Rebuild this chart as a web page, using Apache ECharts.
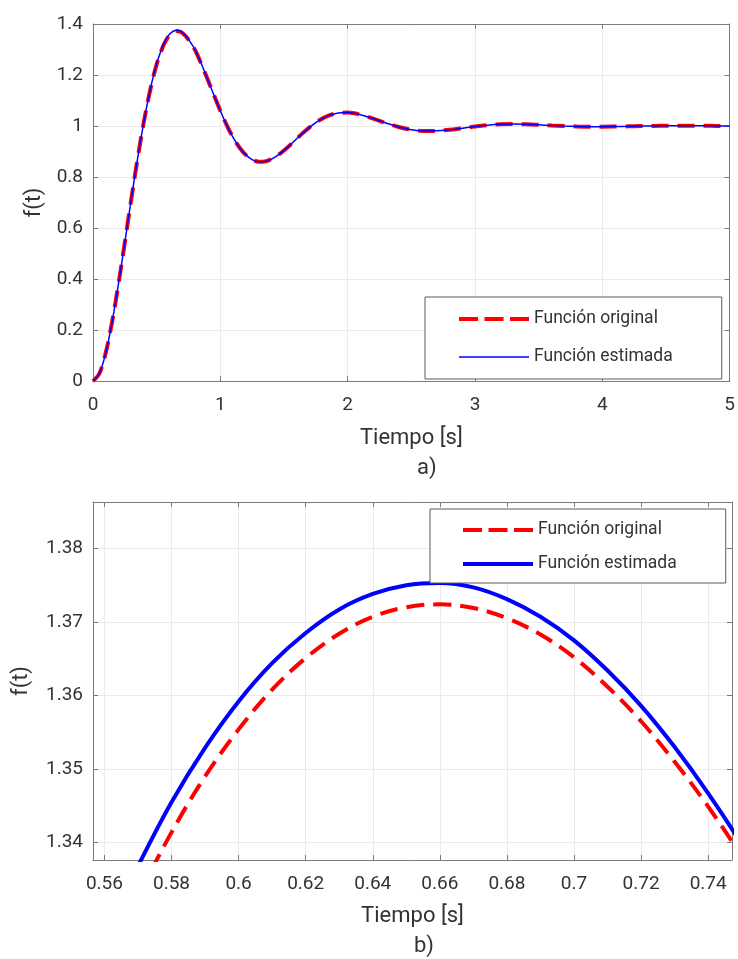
<!DOCTYPE html>
<html>
<head>
<meta charset="utf-8">
<script src="https://cdn.jsdelivr.net/npm/echarts@6/dist/echarts.min.js"></script>
<style>
  html, body { margin: 0; padding: 0; background: #ffffff; }
  #chart { width: 738px; height: 959px; }
</style>
</head>
<body>
<div id="chart"></div>
<script>
// Step response samples: time [s], original function and estimated function.
// Dense sampling between 0.55 s and 0.75 s covers the zoomed view b).
const tiempo = [
  0, 0.05, 0.1, 0.15, 0.2, 0.25, 0.3, 0.35, 0.4, 0.45, 0.5, 0.55,
  0.56, 0.57, 0.58, 0.59, 0.6, 0.61, 0.62, 0.63, 0.64, 0.65,
  0.66, 0.67, 0.68, 0.69, 0.7, 0.71, 0.72, 0.73, 0.74, 0.75,
  0.8, 0.85, 0.9, 0.95, 1, 1.05, 1.1, 1.15, 1.2, 1.25, 1.3, 1.35, 1.4, 1.45,
  1.5, 1.55, 1.6, 1.65, 1.7, 1.75, 1.8, 1.85, 1.9, 1.95, 2,
  2.1, 2.2, 2.3, 2.4, 2.5, 2.6, 2.7, 2.8, 2.9, 3, 3.1, 3.2, 3.3, 3.4, 3.5,
  3.6, 3.7, 3.8, 3.9, 4, 4.1, 4.2, 4.3, 4.4, 4.5, 4.6, 4.7, 4.8, 4.9, 5
];

const fOriginal = [
  0, 0.0294, 0.1107, 0.2317, 0.3806, 0.5438, 0.7112, 0.8719, 1.0176, 1.1423, 1.2417, 1.3125,
  1.3229, 1.3326, 1.3414, 1.3490, 1.3554, 1.3608, 1.3651, 1.3684, 1.3707, 1.3720,
  1.3724, 1.3719, 1.3705, 1.3683, 1.3652, 1.3612, 1.3565, 1.3510, 1.3449, 1.3380,
  1.2988, 1.2441, 1.1834, 1.1209, 1.0598, 1.0037, 0.9552, 0.9159, 0.8869, 0.8684, 0.8600, 0.8609, 0.8696, 0.8846,
  0.9042, 0.9265, 0.9500, 0.9731, 0.9946, 1.0134, 1.0289, 1.0405, 1.0483, 1.0521, 1.0525,
  1.0445, 1.0293, 1.0118, 0.9963, 0.9855, 0.9806, 0.9810, 0.9853, 0.9916, 0.9981, 1.0032, 1.0064, 1.0074, 1.0066, 1.0046,
  1.0021, 0.9999, 0.9983, 0.9974, 0.9973, 0.9978, 0.9986, 0.9996, 1.0003, 1.0008, 1.0010, 1.0010, 1.0007, 1.0004, 1.0000
];

const fEstimada = [
  0, 0.0294, 0.1107, 0.2317, 0.3806, 0.5438, 0.7112, 0.8719, 1.0176, 1.1440, 1.2445, 1.3170,
  1.3273, 1.3368, 1.3455, 1.3529, 1.3592, 1.3644, 1.3685, 1.3717, 1.3738, 1.3750,
  1.3753, 1.3747, 1.3731, 1.3707, 1.3675, 1.3634, 1.3586, 1.3530, 1.3467, 1.3397,
  1.3005, 1.2452, 1.1834, 1.1209, 1.0598, 1.0037, 0.9552, 0.9159, 0.8869, 0.8684, 0.8600, 0.8609, 0.8696, 0.8846,
  0.9042, 0.9265, 0.9500, 0.9731, 0.9946, 1.0134, 1.0289, 1.0405, 1.0483, 1.0521, 1.0525,
  1.0445, 1.0293, 1.0118, 0.9963, 0.9855, 0.9806, 0.9810, 0.9853, 0.9916, 0.9981, 1.0032, 1.0064, 1.0074, 1.0066, 1.0046,
  1.0021, 0.9999, 0.9983, 0.9974, 0.9973, 0.9978, 0.9986, 0.9996, 1.0003, 1.0008, 1.0010, 1.0010, 1.0007, 1.0004, 1.0000
];

// Tick labels
const xTicksA = [0, 1, 2, 3, 4, 5];
const yTicksA = [0, 0.2, 0.4, 0.6, 0.8, 1, 1.2, 1.4];
const xTicksB = [0.56, 0.58, 0.6, 0.62, 0.64, 0.66, 0.68, 0.7, 0.72, 0.74];
const yTicksB = [1.34, 1.35, 1.36, 1.37, 1.38];

// Visible window of the zoomed view
const xRangeB = [0.5566, 0.7471];
const yRangeB = [1.33765, 1.3863];

const nombreOriginal = 'Función original';
const nombreEstimada = 'Función estimada';

const FONT = 'Roboto, "Liberation Sans", sans-serif';
const TEXT = '#333333';
const AXIS_GRAY = '#7a7a7a';
const GRID_GRAY = '#ebebeb';
const RED = '#ff0000';
const BLUE = '#0000ff';
const TICK_SIZE = 19;
const NAME_SIZE = 22;
const LEGEND_SIZE = 17.5;

function pairs(xs, ys) { return xs.map((x, i) => [x, ys[i]]); }

function tickFormatter(list) {
  return function (v) {
    const t = list.find(t => Math.abs(t - v) < 1e-7);
    return t === undefined ? '' : String(t);
  };
}

function labelStyle(extra) {
  return Object.assign({ color: TEXT, fontSize: TICK_SIZE, fontFamily: FONT }, extra);
}

function mainAxis(extra) {
  return Object.assign({
    type: 'value',
    axisLine: { show: true, onZero: false, lineStyle: { color: AXIS_GRAY, width: 1 } },
    axisTick: { show: true, inside: true, length: 5, lineStyle: { color: AXIS_GRAY } },
    splitLine: { show: true, lineStyle: { color: GRID_GRAY, width: 1 } },
    nameLocation: 'middle',
    nameTextStyle: { color: TEXT, fontSize: NAME_SIZE, fontFamily: FONT }
  }, extra);
}

function mirrorAxis(extra) {
  return Object.assign({
    type: 'value',
    axisLine: { show: true, onZero: false, lineStyle: { color: AXIS_GRAY, width: 1 } },
    axisTick: { show: true, inside: true, length: 5, lineStyle: { color: AXIS_GRAY } },
    axisLabel: { show: false },
    splitLine: { show: false }
  }, extra);
}

const xLimitsA = { min: xTicksA[0], max: xTicksA[xTicksA.length - 1], interval: xTicksA[1] - xTicksA[0] };
const yLimitsA = { min: yTicksA[0], max: yTicksA[yTicksA.length - 1], interval: 0.2 };
const xLimitsB = { min: xRangeB[0], max: xRangeB[1], splitNumber: 10 };
const yLimitsB = { min: yRangeB[0], max: yRangeB[1], splitNumber: 5 };

// Legend swatches: line only, no marker
const hiddenMarker = { color: 'rgba(0,0,0,0)', borderWidth: 0, opacity: 0 };

function legendBox(left, top, gap, padding, estWidth) {
  return {
    left: left, top: top, orient: 'vertical',
    itemWidth: 70, itemHeight: 14, itemGap: gap,
    padding: padding,
    backgroundColor: '#ffffff', borderColor: '#5a5a5a', borderWidth: 1, borderRadius: 0,
    selectedMode: false,
    itemStyle: hiddenMarker,
    textStyle: { color: TEXT, fontSize: LEGEND_SIZE, fontFamily: FONT },
    data: [
      { name: nombreOriginal, itemStyle: hiddenMarker, lineStyle: { color: RED, width: 4, type: [19, 6.5] } },
      { name: nombreEstimada, itemStyle: hiddenMarker, lineStyle: { color: BLUE, width: estWidth } }
    ]
  };
}

const option = {
  backgroundColor: '#ffffff',
  animation: false,
  grid: [
    { left: 93, top: 24, width: 639, height: 357, containLabel: false },
    { left: 93, top: 502, width: 639, height: 358, containLabel: false }
  ],
  xAxis: [
    mainAxis(Object.assign({ gridIndex: 0, position: 'bottom', name: 'Tiempo [s]', nameGap: 46,
      axisLabel: labelStyle({ margin: 15, formatter: tickFormatter(xTicksA) }) }, xLimitsA)),
    mirrorAxis(Object.assign({ gridIndex: 0, position: 'top' }, xLimitsA)),
    mainAxis(Object.assign({ gridIndex: 1, position: 'bottom', name: 'Tiempo [s]', nameGap: 45,
      axisLabel: labelStyle({ margin: 15, showMinLabel: false, showMaxLabel: false, formatter: tickFormatter(xTicksB) }) }, xLimitsB)),
    mirrorAxis(Object.assign({ gridIndex: 1, position: 'top' }, xLimitsB))
  ],
  yAxis: [
    mainAxis(Object.assign({ gridIndex: 0, position: 'left', name: 'f(t)', nameGap: 47,
      axisLabel: labelStyle({ margin: 10, formatter: tickFormatter(yTicksA) }) }, yLimitsA)),
    mirrorAxis(Object.assign({ gridIndex: 0, position: 'right' }, yLimitsA)),
    mainAxis(Object.assign({ gridIndex: 1, position: 'left', name: 'f(t)', nameGap: 61,
      axisLabel: labelStyle({ margin: 10, showMinLabel: false, showMaxLabel: false, formatter: tickFormatter(yTicksB) }) }, yLimitsB)),
    mirrorAxis(Object.assign({ gridIndex: 1, position: 'right' }, yLimitsB))
  ],
  legend: [
    legendBox(425, 297, 20, [13, 49, 13, 32], 1.5),
    legendBox(430, 509, 16, [12, 49, 10, 31], 4)
  ],
  graphic: [
    { type: 'text', left: 417, top: 457, style: { text: 'a)', fontSize: NAME_SIZE, fontFamily: FONT, fill: TEXT } },
    { type: 'text', left: 414, top: 935, style: { text: 'b)', fontSize: NAME_SIZE, fontFamily: FONT, fill: TEXT } }
  ],
  series: [
    {
      name: nombreOriginal, type: 'line', xAxisIndex: 0, yAxisIndex: 0,
      data: pairs(tiempo, fOriginal), smooth: 0.35,
      symbol: 'none', showSymbol: false,
      lineStyle: { color: RED, width: 4, type: [17, 9] }, itemStyle: { color: RED }
    },
    {
      name: nombreEstimada, type: 'line', xAxisIndex: 0, yAxisIndex: 0,
      data: pairs(tiempo, fEstimada), smooth: 0.35,
      symbol: 'none', showSymbol: false,
      lineStyle: { color: BLUE, width: 1.5 }, itemStyle: { color: BLUE }
    },
    {
      name: nombreOriginal, type: 'line', xAxisIndex: 2, yAxisIndex: 2,
      data: pairs(tiempo, fOriginal), smooth: 0.35,
      symbol: 'none', showSymbol: false, clip: true,
      lineStyle: { color: RED, width: 4, type: [18, 9] }, itemStyle: { color: RED }
    },
    {
      name: nombreEstimada, type: 'line', xAxisIndex: 2, yAxisIndex: 2,
      data: pairs(tiempo, fEstimada), smooth: 0.35,
      symbol: 'none', showSymbol: false, clip: true,
      lineStyle: { color: BLUE, width: 4 }, itemStyle: { color: BLUE }
    }
  ]
};

const chart = echarts.init(document.getElementById('chart'), null, { renderer: 'canvas' });
chart.setOption(option);
</script>
</body>
</html>
